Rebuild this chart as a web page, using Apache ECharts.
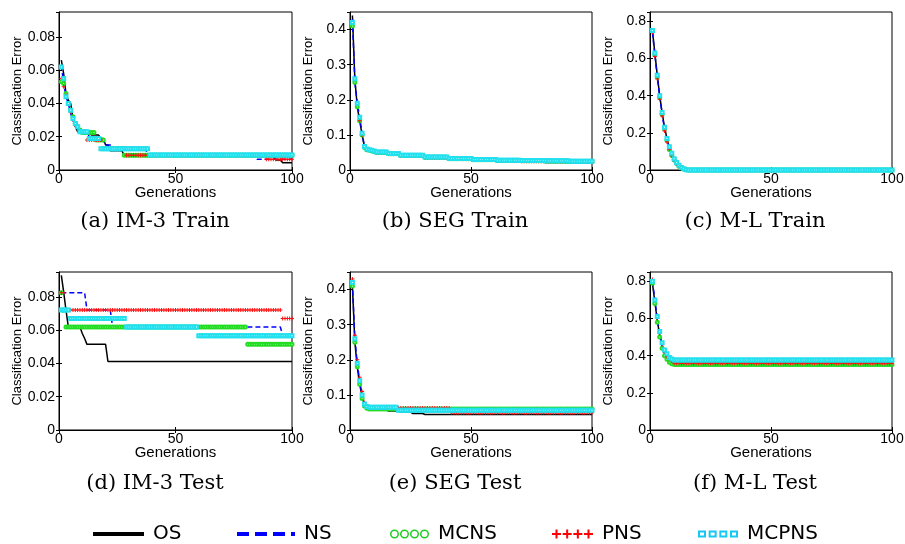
<!DOCTYPE html>
<html><head><meta charset="utf-8">
<script src="https://cdn.jsdelivr.net/npm/echarts@6/dist/echarts.min.js"></script>
<style>html,body{margin:0;padding:0;background:#fff}#c{width:905px;height:544px}</style>
</head><body><div id="c"></div>
<script>
// ===== DATA (run-length: [classification error, number of generations]) =====
const seriesNames = ['OS', 'NS', 'MCNS', 'PNS', 'MCPNS'];
const captions = ['(a) IM-3 Train', '(b) SEG Train', '(c) M-L Train', '(d) IM-3 Test', '(e) SEG Test', '(f) M-L Test'];
const xTicks = [0, 50, 100];
const xName = 'Generations';
const yName = 'Classification Error';

// (a) IM-3 Train
const imTrainOS    = [[0.066,1],[0.058,1],[0.046,1],[0.042,1],[0.040,1],[0.031,1],[0.026,1],[0.023,2],[0.022,4],[0.021,4],[0.019,2],[0.015,2],[0.0115,6],[0.0088,65],[0.006,3],[0.0044,5]];
const imTrainNS    = [[0.063,1],[0.052,1],[0.044,1],[0.040,1],[0.034,1],[0.030,1],[0.027,1],[0.025,1],[0.023,4],[0.020,4],[0.018,3],[0.015,3],[0.0135,15],[0.0088,47],[0.0064,16]];
const imTrainMCNS  = [[0.053,1],[0.052,1],[0.046,1],[0.040,1],[0.036,1],[0.032,1],[0.028,1],[0.026,1],[0.024,1],[0.0225,6],[0.018,4],[0.013,8],[0.0088,73]];
const imTrainPNS   = [[0.055,1],[0.050,1],[0.045,1],[0.040,1],[0.035,1],[0.030,1],[0.027,1],[0.025,1],[0.023,3],[0.018,7],[0.013,10],[0.0088,60],[0.0064,12]];
const imTrainMCPNS = [[0.062,1],[0.055,1],[0.044,1],[0.040,1],[0.036,1],[0.031,1],[0.028,1],[0.026,1],[0.023,4],[0.019,5],[0.0128,21],[0.009,62]];

// (b) SEG Train
const segTrainOS    = [[0.44,1],[0.26,1],[0.18,1],[0.14,1],[0.10,1],[0.065,1],[0.059,1],[0.057,1],[0.055,1],[0.053,1],[0.050,5],[0.046,5],[0.040,10],[0.035,10],[0.031,10],[0.028,10],[0.026,10],[0.024,10],[0.022,10],[0.020,10]];
const segTrainNS    = [[0.43,1],[0.25,1],[0.19,1],[0.15,1],[0.105,1],[0.066,1],[0.060,1],[0.058,1],[0.056,1],[0.054,1],[0.051,5],[0.047,5],[0.041,10],[0.036,10],[0.032,10],[0.030,10],[0.028,10],[0.026,10],[0.025,10],[0.024,10]];
const segTrainMCNS  = [[0.41,1],[0.25,1],[0.18,1],[0.14,1],[0.10,1],[0.064,1],[0.058,1],[0.056,1],[0.054,1],[0.053,1],[0.050,5],[0.046,5],[0.041,10],[0.036,10],[0.032,10],[0.029,10],[0.027,10],[0.026,10],[0.025,10],[0.024,10]];
const segTrainPNS   = [[0.42,1],[0.26,1],[0.19,1],[0.14,1],[0.10,1],[0.066,1],[0.059,1],[0.057,1],[0.055,1],[0.053,1],[0.050,5],[0.046,5],[0.040,10],[0.035,10],[0.031,10],[0.029,10],[0.027,10],[0.025,10],[0.024,10],[0.023,10]];
const segTrainMCPNS = [[0.42,1],[0.26,1],[0.19,1],[0.15,1],[0.105,1],[0.067,1],[0.060,1],[0.058,1],[0.056,1],[0.054,1],[0.051,5],[0.047,5],[0.042,10],[0.037,10],[0.033,10],[0.030,10],[0.028,10],[0.027,10],[0.026,10],[0.025,10]];

// (c) M-L Train
const mlTrainOS    = [[0.75,1],[0.63,1],[0.51,1],[0.40,1],[0.31,1],[0.23,1],[0.17,1],[0.12,1],[0.085,1],[0.06,1],[0.04,1],[0.025,1],[0.015,1],[0.008,1],[0.003,1],[0,85]];
const mlTrainNS    = [[0.74,1],[0.62,1],[0.50,1],[0.40,1],[0.30,1],[0.22,1],[0.16,1],[0.12,1],[0.08,1],[0.055,1],[0.037,1],[0.022,1],[0.012,1],[0.006,1],[0.002,1],[0,85]];
const mlTrainMCNS  = [[0.75,1],[0.62,1],[0.50,1],[0.39,1],[0.30,1],[0.22,1],[0.16,1],[0.11,1],[0.08,1],[0.055,1],[0.035,1],[0.02,1],[0.011,1],[0.005,1],[0.001,1],[0,85]];
const mlTrainPNS   = [[0.74,1],[0.61,1],[0.49,1],[0.38,1],[0.29,1],[0.21,1],[0.15,1],[0.11,1],[0.075,1],[0.05,1],[0.033,1],[0.02,1],[0.01,1],[0.004,1],[0.001,1],[0,85]];
const mlTrainMCPNS = [[0.75,1],[0.63,1],[0.51,1],[0.40,1],[0.31,1],[0.23,1],[0.17,1],[0.125,1],[0.09,1],[0.06,1],[0.04,1],[0.025,1],[0.014,1],[0.007,1],[0.002,1],[0,85]];

// (d) IM-3 Test
const imTestOS    = [[0.093,1],[0.083,1],[0.072,1],[0.062,6],[0.058,1],[0.055,1],[0.0515,9],[0.0412,80]];
const imTestNS    = [[0.0825,11],[0.0722,11],[0.0619,73],[0.057,5]];
const imTestMCNS  = [[0.0825,1],[0.072,1],[0.0619,78],[0.0515,20]];
const imTestPNS   = [[0.0825,2],[0.0722,93],[0.067,5]];
const imTestMCPNS = [[0.0722,4],[0.067,24],[0.0619,31],[0.0567,41]];

// (e) SEG Test
const segTestOS    = [[0.41,1],[0.25,1],[0.18,1],[0.13,1],[0.095,1],[0.07,1],[0.063,1],[0.060,3],[0.057,5],[0.054,5],[0.051,5],[0.047,5],[0.044,70]];
const segTestNS    = [[0.42,1],[0.26,1],[0.19,1],[0.14,1],[0.10,1],[0.072,1],[0.064,1],[0.061,8],[0.057,10],[0.054,20],[0.052,55]];
const segTestMCNS  = [[0.41,1],[0.25,1],[0.18,1],[0.13,1],[0.09,1],[0.068,1],[0.062,1],[0.060,93]];
const segTestPNS   = [[0.43,1],[0.27,1],[0.20,1],[0.15,1],[0.11,1],[0.078,1],[0.068,1],[0.063,34],[0.049,59]];
const segTestMCPNS = [[0.42,1],[0.26,1],[0.19,1],[0.14,1],[0.10,1],[0.074,1],[0.067,1],[0.065,12],[0.056,81]];

// (f) M-L Test
const mlTestOS    = [[0.79,1],[0.69,1],[0.59,1],[0.51,1],[0.45,1],[0.41,1],[0.39,1],[0.378,1],[0.370,1],[0.366,91]];
const mlTestNS    = [[0.80,1],[0.70,1],[0.60,1],[0.52,1],[0.46,1],[0.42,1],[0.40,1],[0.385,1],[0.378,1],[0.372,91]];
const mlTestMCNS  = [[0.79,1],[0.68,1],[0.58,1],[0.50,1],[0.44,1],[0.40,1],[0.38,1],[0.365,1],[0.357,1],[0.353,91]];
const mlTestPNS   = [[0.81,1],[0.70,1],[0.60,1],[0.52,1],[0.46,1],[0.42,1],[0.395,1],[0.38,1],[0.37,1],[0.36,1],[0.359,90]];
const mlTestMCPNS = [[0.80,1],[0.70,1],[0.61,1],[0.53,1],[0.47,1],[0.43,1],[0.41,1],[0.39,1],[0.382,1],[0.377,91]];

const panelData = [
  [imTrainOS, imTrainNS, imTrainMCNS, imTrainPNS, imTrainMCPNS],
  [segTrainOS, segTrainNS, segTrainMCNS, segTrainPNS, segTrainMCPNS],
  [mlTrainOS, mlTrainNS, mlTrainMCNS, mlTrainPNS, mlTrainMCPNS],
  [imTestOS, imTestNS, imTestMCNS, imTestPNS, imTestMCPNS],
  [segTestOS, segTestNS, segTestMCNS, segTestPNS, segTestMCPNS],
  [mlTestOS, mlTestNS, mlTestMCNS, mlTestPNS, mlTestMCPNS]
];
const yMaxes = [0.095, 0.45, 0.85, 0.095, 0.45, 0.85];
const yIntervals = [0.02, 0.1, 0.2, 0.02, 0.1, 0.2];

// ===== LAYOUT / STYLE =====
const grids = [
  {left: 59, top: 12, width: 233, height: 158, cx: 155, cy: 222},
  {left: 350, top: 12, width: 242, height: 158, cx: 455, cy: 222},
  {left: 650, top: 12, width: 242, height: 158, cx: 755, cy: 222},
  {left: 59, top: 272, width: 233, height: 158, cx: 155, cy: 484},
  {left: 350, top: 272, width: 242, height: 158, cx: 455, cy: 484},
  {left: 650, top: 272, width: 242, height: 158, cx: 755, cy: 484}
];
const AX_FONT = 'Liberation Sans, Arial, sans-serif';
const plusPath = 'path://M0,1.5H4V2.5H0Z M1.5,0H2.5V4H1.5Z';
const seriesStyles = [
  {showSymbol: false, lineStyle: {color: '#000', width: 1.5}, itemStyle: {color: '#000'}},
  {showSymbol: false, lineStyle: {color: '#0000ff', width: 1.5, type: [5, 3]}, itemStyle: {color: '#0000ff'}},
  {showSymbol: true, symbol: 'emptyCircle', symbolSize: 3, lineStyle: {opacity: 0}, itemStyle: {color: '#22dd22', borderWidth: 1.5}},
  {showSymbol: true, symbol: plusPath, symbolSize: 4, lineStyle: {opacity: 0}, itemStyle: {color: '#ff1010'}},
  {showSymbol: true, symbol: 'emptyRect', symbolSize: 3, lineStyle: {opacity: 0}, itemStyle: {color: '#22e0ee', borderWidth: 1.5}}
];

function decode(rle) {
  const out = [];
  let g = 1;
  rle.forEach(([v, n]) => { for (let i = 0; i < n; i++) out.push([g++, v]); });
  return out;
}

const option = {
  animation: false,
  backgroundColor: '#fff',
  grid: [], xAxis: [], yAxis: [], series: [], graphic: [],
  legend: []
};

grids.forEach((g, i) => {
  option.grid.push({left: g.left, top: g.top, width: g.width, height: g.height, show: true,
    borderColor: '#000', borderWidth: 1, backgroundColor: '#fff', containLabel: false, outerBoundsMode: 'none'});
  const tick = {show: true, inside: true, length: 3, lineStyle: {color: '#000', width: 1}};
  option.xAxis.push({
    type: 'value', gridIndex: i, min: xTicks[0], max: xTicks[xTicks.length - 1], interval: xTicks[1] - xTicks[0],
    axisLine: {show: true, onZero: false, lineStyle: {color: '#000', width: 1}},
    axisTick: tick, splitLine: {show: false},
    axisLabel: {color: '#000', fontSize: 14, fontFamily: AX_FONT, margin: 2},
    name: xName, nameLocation: 'middle', nameGap: 15, nameMoveOverlap: false,
    nameTextStyle: {color: '#000', fontSize: 15, fontFamily: AX_FONT}
  });
  option.xAxis.push({
    type: 'value', gridIndex: i, position: 'top', min: xTicks[0], max: xTicks[xTicks.length - 1], interval: xTicks[1] - xTicks[0],
    axisLine: {show: false}, axisTick: tick, axisLabel: {show: false}, splitLine: {show: false}
  });
  option.yAxis.push({
    type: 'value', gridIndex: i, min: 0, max: yMaxes[i], interval: yIntervals[i],
    axisLine: {show: true, onZero: false, lineStyle: {color: '#000', width: 1}},
    axisTick: tick, splitLine: {show: false},
    axisLabel: {color: '#000', fontSize: 14, fontFamily: AX_FONT, margin: 4, showMaxLabel: false},
    name: yName, nameLocation: 'middle', nameGap: 35, nameMoveOverlap: false,
    nameTextStyle: {color: '#000', fontSize: 13, fontFamily: AX_FONT}
  });
  option.yAxis.push({
    type: 'value', gridIndex: i, position: 'right', min: 0, max: yMaxes[i], interval: yIntervals[i],
    axisLine: {show: false}, axisTick: tick, axisLabel: {show: false}, splitLine: {show: false}
  });
  panelData[i].forEach((rle, k) => {
    option.series.push(Object.assign({
      type: 'line', name: seriesNames[k], xAxisIndex: 2 * i, yAxisIndex: 2 * i,
      data: decode(rle), showAllSymbol: true, symbolKeepAspect: true, z: 2 + k,
      emphasis: {disabled: true}, silent: true, clip: true
    }, JSON.parse(JSON.stringify(seriesStyles[k]))));
  });
  option.graphic.push({
    type: 'text', x: g.cx, y: g.cy,
    style: {text: captions[i], align: 'center', verticalAlign: 'middle', fill: '#000',
      font: '21px "DejaVu Serif", "Liberation Serif", serif'}
  });
});

// legend: one component per item so each sits where the reference has it
const legendItems = [
  {left: 93, w: 51, h: 4, icon: 'path://M0,0H51V4H0Z', color: '#000'},
  {left: 237, w: 58, h: 4, icon: 'path://M0,0H12V4H0Z M18,0H30V4H18Z M36,0H48V4H36Z M54,0H58V4H54Z', color: '#0000ff'},
  {left: 390, w: 39, h: 9, icon: 'path://' + [0, 10, 20, 30].map(o =>
      `M${o},4.5A4.5,4.5 0 1 1 ${o + 9},4.5A4.5,4.5 0 1 1 ${o},4.5Z M${o + 1.5},4.5A3,3 0 1 0 ${o + 7.5},4.5A3,3 0 1 0 ${o + 1.5},4.5Z`).join(' '),
    color: '#22cc22'},
  {left: 552, w: 41, h: 9, icon: 'path://' + [0, 10.67, 21.33, 32].map(o =>
      `M${o},3.5H${o + 9}V5.5H${o}Z M${o + 3.5},0H${o + 5.5}V9H${o + 3.5}Z`).join(' '),
    color: '#ff0000'},
  {left: 698, w: 40, h: 7, icon: 'path://' + [0, 10.67, 21.33, 32].map(o =>
      `M${o},0H${o + 8}V7H${o}Z M${o + 2},2V5H${o + 6}V2Z`).join(' '),
    color: '#18c8f4'}
];
legendItems.forEach((it, k) => {
  option.legend.push({
    left: it.left, top: 523, padding: 0, itemWidth: it.w, itemHeight: it.h, selectedMode: false,
    textStyle: {fontSize: 20, color: '#000', fontFamily: 'DejaVu Sans, sans-serif', padding: [0, 0, 0, 4], lineHeight: 22},
    data: [{name: seriesNames[k], icon: it.icon, itemStyle: {color: it.color, borderWidth: 0}}]
  });
});

const chart = echarts.init(document.getElementById('c'), null, {renderer: 'canvas'});
chart.setOption(option);
</script>
</body></html>
